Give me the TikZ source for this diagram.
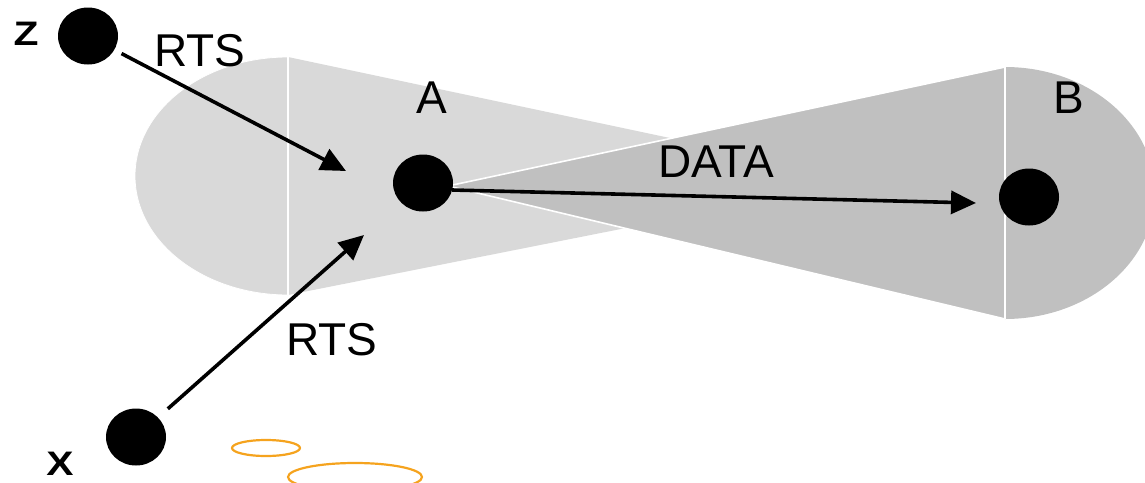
\documentclass[tikz,border=0pt]{standalone}
\usepackage{fontspec}
\setmainfont{Liberation Sans}
\usetikzlibrary{arrows.meta,shapes.geometric,calc}
\definecolor{beamA}{HTML}{D9D9D9}
\definecolor{beamB}{HTML}{C0C0C0}
\definecolor{ring}{HTML}{F5A31E}
\newcommand{\widetag}[1]{\scalebox{1.2}[1]{#1}}
\begin{document}
\begin{tikzpicture}[x=1pt,y=-1pt,
  station/.style={ellipse,fill=black,inner sep=0pt,minimum width=60pt,minimum height=57pt},
  msg/.style={font=\fontsize{46}{46}\selectfont,inner sep=0pt},
  tag/.style={font=\bfseries\fontsize{34}{34}\selectfont,inner sep=0pt},
  link/.style={line width=3.6pt,-{Triangle[length=25pt,width=23pt]}},
  edge/.style={draw=white,line width=1.6pt}]
\useasboundingbox (0,0) rectangle (1145,482);
% beam of A: half disc and wedge
\fill[beamA] (288,57) -- (868,180) -- (288,295) -- cycle;
\fill[beamA,draw=white,line width=0.8pt] (288,57) arc[start angle=-90,end angle=-270,x radius=153,y radius=119] -- cycle;
\draw[edge] (288,57) -- (288,295);
% beam of B: wedge and half disc
\filldraw[beamB,edge] (448,186) -- (1005,67) -- (1005,319) -- cycle;
\fill[beamB] (1005,67) arc[start angle=-90,end angle=90,x radius=150,y radius=126] -- cycle;
\draw[edge] (1005,67) -- (1005,319);
% stations
\node[station] (z) at (88,36) {};
\node[station] (a) at (423,183) {};
\node[station] (b) at (1029,197) {};
\node[station] (x) at (136,437) {};
\coordinate (zend) at (346,171);
\coordinate (xend) at (364,235);
\coordinate (dstart) at (452,190);
\coordinate (dend) at (976,203);
% transmissions
\draw[link,shorten <=8pt] (z) -- (zend);
\draw[link,shorten <=13pt] (x) -- (xend);
\draw[link] (dstart) -- (dend);
% labels
\node[tag] (lz) at (26,34) {\widetag{Z}};
\node[tag] (lx) at (60,464) {\widetag{X}};
\node[msg] (r1) at (200,51) {RTS};
\node[msg] (r2) at (332,340) {RTS};
\node[msg] (la) at (432,98) {A};
\node[msg] (lb) at (1069,98) {B};
\node[msg] (ld) at (716,162) {DATA};
% orange rings
\draw[ring,line width=2.2pt] (266,448) ellipse[x radius=34,y radius=8];
\draw[ring,line width=2.2pt] (355,477) ellipse[x radius=67,y radius=14];
\end{tikzpicture}
\end{document}
